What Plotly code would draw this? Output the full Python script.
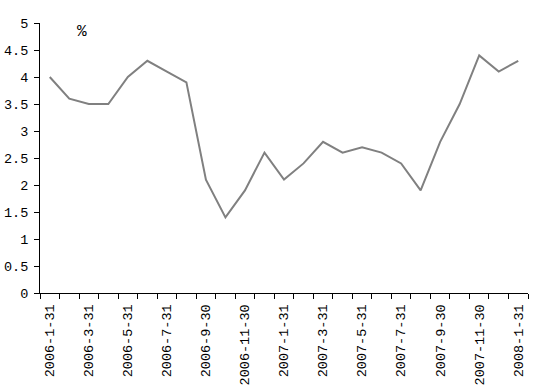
import plotly.graph_objects as go

dates = ["2006-1-31", "2006-2-28", "2006-3-31", "2006-4-30", "2006-5-31", "2006-6-30",
         "2006-7-31", "2006-8-31", "2006-9-30", "2006-10-31", "2006-11-30", "2006-12-31",
         "2007-1-31", "2007-2-28", "2007-3-31", "2007-4-30", "2007-5-31", "2007-6-30",
         "2007-7-31", "2007-8-31", "2007-9-30", "2007-10-31", "2007-11-30", "2007-12-31",
         "2008-1-31"]
values = [4.0, 3.6, 3.5, 3.5, 4.0, 4.3, 4.1, 3.9, 2.1, 1.4, 1.9, 2.6,
          2.1, 2.4, 2.8, 2.6, 2.7, 2.6, 2.4, 1.9, 2.8, 3.5, 4.4, 4.1, 4.3]
tick_labels = [d if i % 2 == 0 else "" for i, d in enumerate(dates)]
unit = "%"

FONT = "Liberation Mono"

fig = go.Figure()
fig.add_trace(go.Scatter(x=dates, y=values, mode="lines",
                         line=dict(color="#808080", width=2), showlegend=False))

fig.update_layout(
    width=555, height=390,
    margin=dict(l=40, r=27, t=23, b=97),
    paper_bgcolor="white", plot_bgcolor="white",
    font=dict(family=FONT, size=13, color="black"),
    xaxis=dict(type="category", tickmode="array", tickvals=dates, ticktext=tick_labels,
               tickson="boundaries", ticks="outside", ticklen=5, tickcolor="black",
               tickangle=-90, showgrid=False, showline=True, linecolor="black",
               linewidth=1, zeroline=False, range=[-0.5, 24.5], ticklabelstandoff=5,
               automargin=False, tickfont=dict(family=FONT, size=13.5)),
    yaxis=dict(range=[0, 5], dtick=0.5, tick0=0, ticks="outside", ticklen=5,
               tickcolor="black", showgrid=False, showline=True, linecolor="black",
               linewidth=1, zeroline=False, ticklabelstandoff=3, automargin=False,
               tickfont=dict(family=FONT, size=13.5)),
    annotations=[dict(text=unit, xref="paper", yref="paper", x=0.086, y=0.967,
                      xanchor="center", yanchor="middle",
                      showarrow=False, font=dict(family=FONT, size=16))],
)

fig.write_html("out.html")
